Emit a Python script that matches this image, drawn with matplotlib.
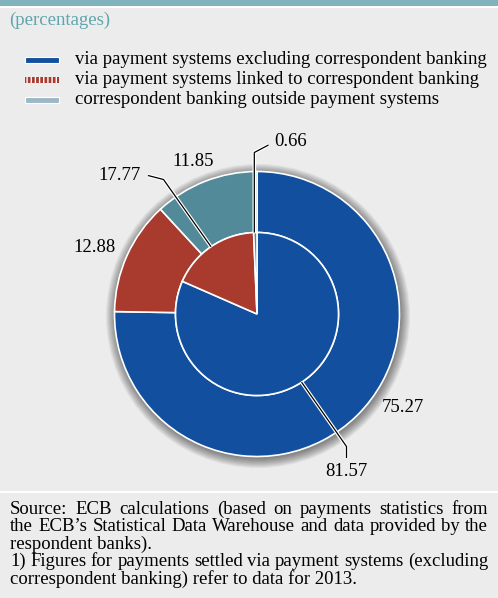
import matplotlib
matplotlib.use('Agg')
import matplotlib.pyplot as plt
import matplotlib.patheffects as pe
from matplotlib.patches import Rectangle, Circle
import numpy as np

# Shares of payments, outer ring vs inner pie (percentages)
categories = [
    'via payment systems excluding correspondent banking',
    'via payment systems linked to correspondent banking',
    'correspondent banking outside payment systems',
]
outer_values = [75.27, 12.88, 11.85]
inner_values = [81.57, 17.77, 0.66]

footer_lines = [
    'Source: ECB calculations (based on payments statistics from',
    'the ECB\u2019s Statistical Data Warehouse and data provided by the',
    'respondent banks).',
    '1) Figures for payments settled via payment systems (excluding',
    'correspondent banking) refer to data for 2013.',
]
footer_justify = [True, True, False, True, False]

BLUE = '#124f9e'
RED = '#a93a2e'
TEAL = '#538a99'
BG = '#ececec'
BAR = '#80b3bb'
TITLE_COL = '#5fa5ae'
FONT = 'Liberation Serif'
FS = 13.5

W, H = 498, 598
CX, CY = 257, 314
R_OUT, R_IN = 142.5, 81.5

fig = plt.figure(figsize=(W / 100, H / 100), dpi=100)
fig.patch.set_facecolor(BG)
ax = fig.add_axes([0, 0, 1, 1])
ax.set_facecolor(BG)

# header bar and footer separator
ax.add_patch(Rectangle((0, 0), W, 6, color=BAR, lw=0))
ax.add_patch(Rectangle((0, 6), W, 2.2, color='white', lw=0))
ax.add_patch(Rectangle((0, 490.5), W, 2.5, color='white', lw=0))

ax.text(9, 20, '(percentages)', family=FONT, fontsize=FS, color=TITLE_COL,
        va='center', ha='left')

# legend
legend_y = [60, 80, 100]
ax.add_patch(Rectangle((25, legend_y[0] - 3), 34, 6, facecolor=BLUE,
                       edgecolor='white', lw=0.8))
ax.add_patch(Rectangle((25, legend_y[1] - 3), 34, 6, facecolor=RED,
                       edgecolor='white', lw=0, hatch='||||'))
ax.add_patch(Rectangle((25, legend_y[2] - 3), 34, 6, facecolor='#9cb8c5',
                       edgecolor='white', lw=0.8))
for y, label in zip(legend_y, categories):
    ax.text(75, y, label, family=FONT, fontsize=FS, va='center', ha='left')

# soft shadow behind the ring
for i in range(10):
    ax.add_patch(Circle((CX + 1, CY + 2), R_OUT + 0.5 + i, color='black',
                        alpha=0.05, lw=0, zorder=0.5))

colors = [BLUE, RED, TEAL]
# y axis points down, so counterclockwise in data = clockwise on screen
ax.pie(outer_values, colors=colors, radius=R_OUT, center=(CX, CY),
       startangle=-90, counterclock=True,
       wedgeprops=dict(width=R_OUT - R_IN, edgecolor='white', linewidth=1.2))
ax.pie(inner_values, colors=colors, radius=R_IN, center=(CX, CY),
       startangle=-90, counterclock=True,
       wedgeprops=dict(edgecolor='white', linewidth=1.2))

ax.set_xlim(0, W)
ax.set_ylim(H, 0)
ax.set_aspect('equal')
ax.axis('off')


def mid_point(values, idx, radius):
    frac = (np.cumsum(values)[idx] - values[idx] / 2) / sum(values)
    theta = 2 * np.pi * frac
    return CX + radius * np.sin(theta), CY - radius * np.cos(theta)


halo = [pe.Stroke(linewidth=2.6, foreground='white'), pe.Normal()]


def leader(points):
    xs, ys = zip(*points)
    ax.plot(xs, ys, color='black', lw=0.9, path_effects=halo, zorder=5,
            solid_capstyle='butt')


# outer ring labels
outer_pos = [(403, 407), (95, 247), (193, 162)]
for (x, y), v in zip(outer_pos, outer_values):
    ax.text(x, y, f'{v:.2f}', family=FONT, fontsize=FS, ha='center', va='center')

# inner pie labels with leader lines
p = mid_point(inner_values, 0, R_IN)
leader([p, (346.5, 446.5), (346.5, 458)])
ax.text(346.5, 472, f'{inner_values[0]:.2f}', family=FONT, fontsize=FS,
        ha='center', va='center')

p = mid_point(inner_values, 1, R_IN)
leader([p, (163.5, 179.5), (148, 175.5)])
ax.text(120, 175, f'{inner_values[1]:.2f}', family=FONT, fontsize=FS,
        ha='center', va='center')

p = mid_point(inner_values, 2, R_IN)
leader([(p[0] - 1, p[1]), (p[0] - 1, 152.5), (268.5, 145)])
ax.text(291, 142, f'{inner_values[2]:.2f}', family=FONT, fontsize=FS,
        ha='center', va='center')

# footer notes, partly justified
renderer = fig.canvas.get_renderer()
x0, x1 = 10, 488
for k, (line, just) in enumerate(zip(footer_lines, footer_justify)):
    y = 509 + k * 17.6
    if not just:
        ax.text(x0, y, line, family=FONT, fontsize=FS, va='center', ha='left')
        continue
    words = line.split(' ')
    texts = [ax.text(0, y, w, family=FONT, fontsize=FS, va='center', ha='left')
             for w in words]
    widths = [t.get_window_extent(renderer).width for t in texts]
    gap = (x1 - x0 - sum(widths)) / (len(words) - 1)
    x = x0
    for t, w in zip(texts, widths):
        t.set_x(x)
        x += w + gap

fig.savefig('out.png', dpi=100, facecolor=BG)
